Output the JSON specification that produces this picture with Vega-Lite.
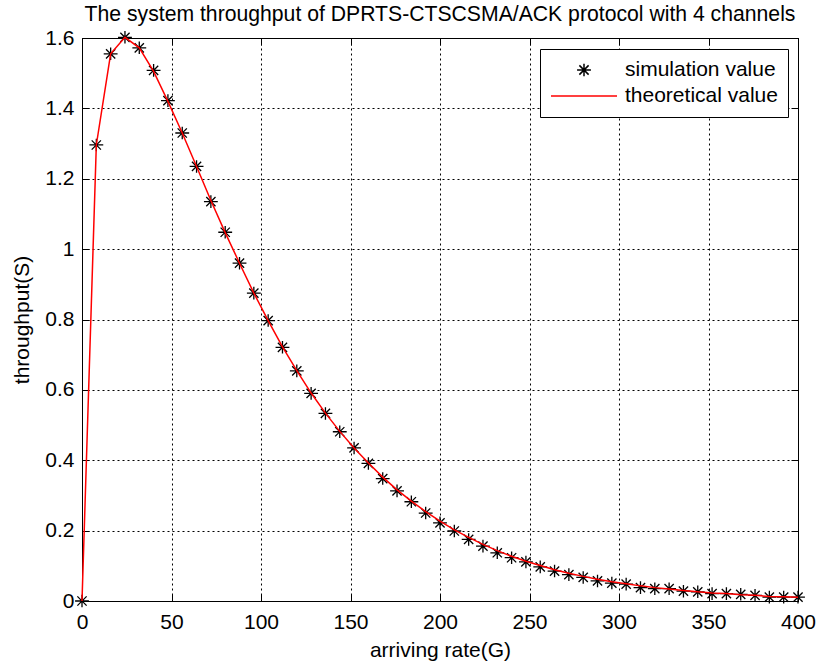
{
  "$schema": "https://vega.github.io/schema/vega-lite/v6.json",
  "width": 716,
  "height": 563,
  "autosize": "none",
  "padding": {"left": 82, "top": 38, "right": 19, "bottom": 65},
  "background": "white",
  "title": {"text": "The system throughput of DPRTS-CTSCSMA/ACK protocol with 4 channels", "font": "Liberation Sans", "fontSize": 21.2, "fontWeight": "normal", "color": "black", "anchor": "middle", "offset": 1.5},
  "config": {
    "view": {"stroke": "black", "strokeWidth": 1},
    "axis": {
      "labelFont": "Liberation Sans", "labelFontSize": 21, "labelColor": "black",
      "titleFont": "Liberation Sans", "titleFontSize": 21, "titleFontWeight": "normal", "titleColor": "black",
      "domainColor": "black", "tickColor": "black", "tickSize": -7,
      "gridColor": "black", "gridDash": [2, 3], "gridOpacity": 1, "gridWidth": 1
    }
  },
  "data": {"values": [
    {"G": 0, "S": 0, "series": "simulation value"},
    {"G": 8, "S": 1.296, "series": "simulation value"},
    {"G": 16, "S": 1.555, "series": "simulation value"},
    {"G": 24, "S": 1.602, "series": "simulation value"},
    {"G": 32, "S": 1.572, "series": "simulation value"},
    {"G": 40, "S": 1.508, "series": "simulation value"},
    {"G": 48, "S": 1.422, "series": "simulation value"},
    {"G": 56, "S": 1.33, "series": "simulation value"},
    {"G": 64, "S": 1.235, "series": "simulation value"},
    {"G": 72, "S": 1.135, "series": "simulation value"},
    {"G": 80, "S": 1.048, "series": "simulation value"},
    {"G": 88, "S": 0.96, "series": "simulation value"},
    {"G": 96, "S": 0.875, "series": "simulation value"},
    {"G": 104, "S": 0.797, "series": "simulation value"},
    {"G": 112, "S": 0.721, "series": "simulation value"},
    {"G": 120, "S": 0.654, "series": "simulation value"},
    {"G": 128, "S": 0.59, "series": "simulation value"},
    {"G": 136, "S": 0.533, "series": "simulation value"},
    {"G": 144, "S": 0.481, "series": "simulation value"},
    {"G": 152, "S": 0.435, "series": "simulation value"},
    {"G": 160, "S": 0.391, "series": "simulation value"},
    {"G": 168, "S": 0.348, "series": "simulation value"},
    {"G": 176, "S": 0.313, "series": "simulation value"},
    {"G": 184, "S": 0.282, "series": "simulation value"},
    {"G": 192, "S": 0.25, "series": "simulation value"},
    {"G": 200, "S": 0.222, "series": "simulation value"},
    {"G": 208, "S": 0.199, "series": "simulation value"},
    {"G": 216, "S": 0.175, "series": "simulation value"},
    {"G": 224, "S": 0.156, "series": "simulation value"},
    {"G": 232, "S": 0.137, "series": "simulation value"},
    {"G": 240, "S": 0.123, "series": "simulation value"},
    {"G": 248, "S": 0.111, "series": "simulation value"},
    {"G": 256, "S": 0.097, "series": "simulation value"},
    {"G": 264, "S": 0.085, "series": "simulation value"},
    {"G": 272, "S": 0.075, "series": "simulation value"},
    {"G": 280, "S": 0.067, "series": "simulation value"},
    {"G": 288, "S": 0.057, "series": "simulation value"},
    {"G": 296, "S": 0.051, "series": "simulation value"},
    {"G": 304, "S": 0.048, "series": "simulation value"},
    {"G": 312, "S": 0.038, "series": "simulation value"},
    {"G": 320, "S": 0.035, "series": "simulation value"},
    {"G": 328, "S": 0.035, "series": "simulation value"},
    {"G": 336, "S": 0.028, "series": "simulation value"},
    {"G": 344, "S": 0.026, "series": "simulation value"},
    {"G": 352, "S": 0.021, "series": "simulation value"},
    {"G": 360, "S": 0.021, "series": "simulation value"},
    {"G": 368, "S": 0.019, "series": "simulation value"},
    {"G": 376, "S": 0.016, "series": "simulation value"},
    {"G": 384, "S": 0.011, "series": "simulation value"},
    {"G": 392, "S": 0.011, "series": "simulation value"},
    {"G": 400, "S": 0.011, "series": "simulation value"},
    {"G": 0, "S": 0, "series": "theoretical value"},
    {"G": 8, "S": 1.296, "series": "theoretical value"},
    {"G": 16, "S": 1.555, "series": "theoretical value"},
    {"G": 24, "S": 1.602, "series": "theoretical value"},
    {"G": 32, "S": 1.572, "series": "theoretical value"},
    {"G": 40, "S": 1.505, "series": "theoretical value"},
    {"G": 48, "S": 1.42, "series": "theoretical value"},
    {"G": 56, "S": 1.33, "series": "theoretical value"},
    {"G": 64, "S": 1.235, "series": "theoretical value"},
    {"G": 72, "S": 1.138, "series": "theoretical value"},
    {"G": 80, "S": 1.047, "series": "theoretical value"},
    {"G": 88, "S": 0.96, "series": "theoretical value"},
    {"G": 96, "S": 0.875, "series": "theoretical value"},
    {"G": 104, "S": 0.797, "series": "theoretical value"},
    {"G": 112, "S": 0.722, "series": "theoretical value"},
    {"G": 120, "S": 0.655, "series": "theoretical value"},
    {"G": 128, "S": 0.591, "series": "theoretical value"},
    {"G": 136, "S": 0.534, "series": "theoretical value"},
    {"G": 144, "S": 0.482, "series": "theoretical value"},
    {"G": 152, "S": 0.435, "series": "theoretical value"},
    {"G": 160, "S": 0.392, "series": "theoretical value"},
    {"G": 168, "S": 0.352, "series": "theoretical value"},
    {"G": 176, "S": 0.316, "series": "theoretical value"},
    {"G": 184, "S": 0.284, "series": "theoretical value"},
    {"G": 192, "S": 0.254, "series": "theoretical value"},
    {"G": 200, "S": 0.227, "series": "theoretical value"},
    {"G": 208, "S": 0.202, "series": "theoretical value"},
    {"G": 216, "S": 0.181, "series": "theoretical value"},
    {"G": 224, "S": 0.161, "series": "theoretical value"},
    {"G": 232, "S": 0.143, "series": "theoretical value"},
    {"G": 240, "S": 0.127, "series": "theoretical value"},
    {"G": 248, "S": 0.113, "series": "theoretical value"},
    {"G": 256, "S": 0.101, "series": "theoretical value"},
    {"G": 264, "S": 0.089, "series": "theoretical value"},
    {"G": 272, "S": 0.079, "series": "theoretical value"},
    {"G": 280, "S": 0.07, "series": "theoretical value"},
    {"G": 288, "S": 0.062, "series": "theoretical value"},
    {"G": 296, "S": 0.055, "series": "theoretical value"},
    {"G": 304, "S": 0.049, "series": "theoretical value"},
    {"G": 312, "S": 0.043, "series": "theoretical value"},
    {"G": 320, "S": 0.038, "series": "theoretical value"},
    {"G": 328, "S": 0.034, "series": "theoretical value"},
    {"G": 336, "S": 0.03, "series": "theoretical value"},
    {"G": 344, "S": 0.026, "series": "theoretical value"},
    {"G": 352, "S": 0.023, "series": "theoretical value"},
    {"G": 360, "S": 0.021, "series": "theoretical value"},
    {"G": 368, "S": 0.018, "series": "theoretical value"},
    {"G": 376, "S": 0.016, "series": "theoretical value"},
    {"G": 384, "S": 0.013, "series": "theoretical value"},
    {"G": 392, "S": 0.012, "series": "theoretical value"},
    {"G": 400, "S": 0.011, "series": "theoretical value"}
  ]},
  "resolve": {"axis": {"x": "independent", "y": "independent"}},
  "layer": [
    {
      "transform": [{"filter": "datum.series === 'simulation value'"}],
      "mark": {"type": "point", "filled": false, "size": 4356, "strokeWidth": 1.3, "opacity": 1},
      "encoding": {
        "x": {"field": "G", "type": "quantitative", "scale": {"domain": [0, 400], "nice": false, "zero": false},
              "axis": {"orient": "bottom", "title": "arriving rate(G)", "values": [0, 50, 100, 150, 200, 250, 300, 350, 400], "grid": true, "labelPadding": 17, "titlePadding": 7, "labelFlush": false}},
        "y": {"field": "S", "type": "quantitative", "scale": {"domain": [0, 1.6], "nice": false, "zero": false},
              "axis": {"orient": "left", "title": "throughput(S)", "values": [0, 0.2, 0.4, 0.6, 0.8, 1, 1.2, 1.4, 1.6], "format": "~g", "grid": true, "labelPadding": 15, "titlePadding": 12, "labelFlush": false}},
        "color": {"field": "series", "type": "nominal",
                  "scale": {"domain": ["simulation value", "theoretical value"], "range": ["black", "red"]},
                  "legend": {"title": null, "orient": "top-right", "offset": 10.5, "padding": 10, "strokeColor": "black", "fillColor": "white",
                             "labelFont": "Liberation Sans", "labelFontSize": 21, "labelColor": "black", "labelLimit": 300,
                             "symbolSize": 4356, "symbolStrokeWidth": 1.5, "clipHeight": 22, "rowPadding": 4, "labelOffset": 7}},
        "shape": {"field": "series", "type": "nominal",
                  "scale": {"domain": ["simulation value", "theoretical value"],
                            "range": ["M-0.21,0L0.21,0M0,-0.19L0,0.19M-0.14,-0.14L0.14,0.14M-0.14,0.14L0.14,-0.14", "M-1,0L1,0"]},
                  "legend": {"title": null}}
      }
    },
    {
      "transform": [{"filter": "datum.series === 'theoretical value'"}],
      "mark": {"type": "line", "strokeWidth": 1.5},
      "encoding": {
        "x": {"field": "G", "type": "quantitative", "axis": {"orient": "top", "title": null, "labels": false, "grid": false, "values": [0, 50, 100, 150, 200, 250, 300, 350, 400]}},
        "y": {"field": "S", "type": "quantitative", "axis": {"orient": "right", "title": null, "labels": false, "grid": false, "values": [0, 0.2, 0.4, 0.6, 0.8, 1, 1.2, 1.4, 1.6]}},
        "color": {"field": "series", "type": "nominal"}
      }
    }
  ]
}
